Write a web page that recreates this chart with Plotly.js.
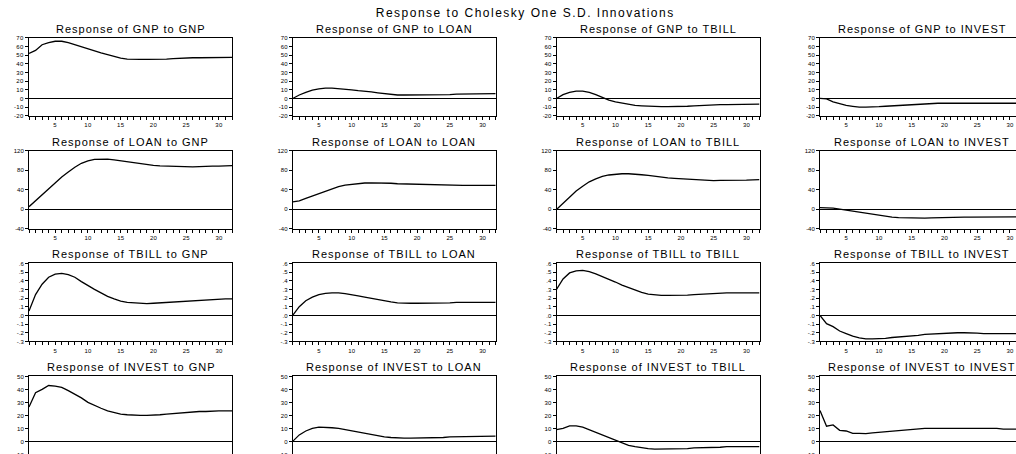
<!DOCTYPE html>
<html>
<head>
<meta charset="utf-8">
<script src="https://cdn.plot.ly/plotly-3.0.1.min.js"></script>
<style>
html, body { margin:0; padding:0; overflow:hidden; background:#fff; }
#chart { width:1030px; height:470px; }
.annotation-text { letter-spacing: 1px; }
.ytick text, .xtick text { letter-spacing: 0.4px; }
</style>
</head>
<body>
<div id="chart"></div>
<script>
// Periods (horizon)
const periods = [1,2,3,4,5,6,7,8,9,10,11,12,13,14,15,16,17,18,19,20,21,22,23,24,25,26,27,28,29,30,31,32];
const variables = ['GNP','LOAN','TBILL','INVEST'];
const mainTitle = 'Response to Cholesky One S.D. Innovations';

// Response of GNP
const gnpToGnp    = [52,55.5,62,64.5,66,66,64.5,62,59.5,57,54.5,52.5,50.5,48.5,46.5,45.5,45,45,45,45,45,45.5,46,46.5,46.5,47,47,47,47.5,47.5,47.5,47.5];
const gnpToLoan   = [0,4,7,9.5,11,12,12,11.5,11,10,9,8.5,7.5,6.5,5.5,4.5,4,4,4,4,4,4,4,4,4.5,5,5,5,5.5,5.5,5.5,5.5];
const gnpToTbill  = [0,4.5,7,8.5,8.5,7,4.5,1,-2,-4,-5.5,-7,-8,-8.5,-9,-9.5,-9.5,-9.5,-9.5,-9,-9,-8.5,-8,-7.5,-7.5,-7,-7,-7,-6.5,-6.5,-6.5,-6.5];
const gnpToInvest = [0,-0.5,-4,-6,-8,-9,-10,-10,-10,-9.5,-9,-8.5,-8,-7.5,-7,-6.5,-6,-5.5,-5.5,-5.5,-5.5,-5.5,-5.5,-5.5,-5.5,-5.5,-5.5,-5.5,-5.5,-5.5,-5.5,-5.5];

// Response of LOAN
const loanToGnp    = [5,17,30,43,55,66,76,86,94,99,102,103,102.5,101,99,97,95,93,91,89.5,88.5,88,87,86.5,86.5,86.5,87,88,88,88,88,89];
const loanToLoan   = [15,17,22,27,32,37,42,46,49,51,52.5,53.5,54,54,53.5,53,52,51.5,51,50.5,50,49.5,49,49,48.5,48.5,48.5,48.5,48.5,48.5,48.5,48.5];
const loanToTbill  = [-1,12,25,37,47,56,62,67,70,72,72.5,72.5,72,70.5,69,67,65,64,63,62,61,60,59,58.5,58.5,59,59.5,59.5,59.5,59.5,60,60.5];
const loanToInvest = [3,3,2,0,-2,-4,-6.5,-9,-11,-13,-15,-16.5,-17.5,-18,-18.5,-18.5,-18.5,-18,-17.5,-17,-16.5,-16.5,-16.5,-16.5,-16.5,-16,-16,-16,-16,-16,-16,-16];

// Response of TBILL
const tbillToGnp    = [0.05,0.24,0.36,0.44,0.475,0.485,0.47,0.44,0.39,0.34,0.30,0.26,0.22,0.19,0.165,0.15,0.145,0.14,0.135,0.14,0.145,0.15,0.155,0.16,0.165,0.17,0.175,0.18,0.18,0.185,0.19,0.19];
const tbillToLoan   = [0.0,0.1,0.17,0.21,0.24,0.255,0.26,0.26,0.25,0.24,0.225,0.21,0.195,0.18,0.165,0.155,0.145,0.14,0.14,0.14,0.14,0.14,0.145,0.145,0.145,0.15,0.15,0.15,0.15,0.15,0.15,0.15];
const tbillToTbill  = [0.3,0.42,0.49,0.515,0.52,0.505,0.48,0.45,0.42,0.385,0.35,0.32,0.29,0.265,0.245,0.235,0.23,0.23,0.23,0.235,0.235,0.24,0.245,0.25,0.25,0.255,0.26,0.26,0.26,0.26,0.26,0.26];
const tbillToInvest = [0.0,-0.095,-0.13,-0.18,-0.21,-0.24,-0.26,-0.27,-0.27,-0.27,-0.265,-0.255,-0.25,-0.24,-0.235,-0.23,-0.22,-0.215,-0.21,-0.205,-0.2,-0.2,-0.2,-0.2,-0.205,-0.21,-0.21,-0.21,-0.21,-0.21,-0.21,-0.21];

// Response of INVEST
const investToGnp    = [26.5,37.5,40,43,42.5,41.5,39,36.5,33.5,30,27.5,25.5,23.5,22,21,20.5,20,20,20,20,20.5,21,21.5,22,22.5,22.5,23,23,23.5,23.5,23.5,23.5];
const investToLoan   = [0,5,8,10,11,11,10.5,10,9,8,7,6,5,4,3.5,3,2.5,2.5,2.5,2.5,2.5,3,3,3,3.5,3.5,3.5,3.5,3.5,3.5,3.5,4];
const investToTbill  = [9,10,12,12,11,9,7,4.5,2.5,0.5,-1.5,-3,-4,-5,-5.5,-6,-6,-6,-6,-5.5,-5.5,-5,-5,-4.5,-4.5,-4.5,-4,-4,-4,-4,-4,-4];
const investToInvest = [23.8,11.7,12.7,8.5,8,6.2,6.2,6,6.5,7,7.5,8,8.5,9,9.5,9.5,10,10,10,10,10.5,10,10,10,10,10,10,10,9.5,9.5,9.5,9.5];

// Y tick labels per response row
const row1TickVals = [-20,-10,0,10,20,30,40,50,60,70];
const row1TickText = ['-20','-10','0','10','20','30','40','50','60','70'];
const row2TickVals = [-40,0,40,80,120];
const row2TickText = ['-40','0','40','80','120'];
const row3TickVals = [-0.3,-0.2,-0.1,0,0.1,0.2,0.3,0.4,0.5,0.6];
const row3TickText = ['-.3','-.2','-.1','.0','.1','.2','.3','.4','.5','.6'];
const row4TickVals = [-10,0,10,20,30,40,50];
const row4TickText = ['-10','0','10','20','30','40','50'];
const xTickVals = [5,10,15,20,25,30];
const xTickText = ['5','10','15','20','25','30'];

const series = [
  [gnpToGnp, gnpToLoan, gnpToTbill, gnpToInvest],
  [loanToGnp, loanToLoan, loanToTbill, loanToInvest],
  [tbillToGnp, tbillToLoan, tbillToTbill, tbillToInvest],
  [investToGnp, investToLoan, investToTbill, investToInvest]
];
const rowRanges = [[-20,70],[-40,120],[-0.3,0.6],[-10,50]];
const rowTicks = [[row1TickVals,row1TickText],[row2TickVals,row2TickText],[row3TickVals,row3TickText],[row4TickVals,row4TickText]];

const W = 1030, H = 470;
const colLeft = [29, 292.7, 556.5, 820];
const plotW = 203;
const rowTop = [37.8, 150.6, 263.4, 376.4];
const plotH = 78;
const FONT = '"Liberation Sans", Arial, sans-serif';

const data = [];
const layout = {
  width: W, height: H,
  margin: {l:0, r:0, t:0, b:0},
  paper_bgcolor: '#fff', plot_bgcolor: '#fff',
  showlegend: false,
  font: {family: FONT, color: '#000'},
  annotations: []
};

for (let r = 0; r < 4; r++) {
  for (let c = 0; c < 4; c++) {
    const k = r*4 + c + 1;
    const xa = 'x' + (k === 1 ? '' : k);
    const ya = 'y' + (k === 1 ? '' : k);
    data.push({
      x: periods, y: series[r][c], type: 'scatter', mode: 'lines',
      xaxis: xa, yaxis: ya,
      line: {color: '#000', width: 1.3}, hoverinfo: 'skip'
    });
    const xd = [colLeft[c]/W, (colLeft[c]+plotW)/W];
    const yd = [(H - rowTop[r] - plotH)/H, (H - rowTop[r])/H];
    layout['xaxis' + (k === 1 ? '' : k)] = {
      domain: xd, anchor: ya, range: [1, 32],
      showgrid: false, zeroline: false,
      showline: true, mirror: true, linecolor: '#000', linewidth: 1,
      ticks: 'outside', ticklen: 3, tickwidth: 1, tickcolor: '#000',
      tickvals: xTickVals, ticktext: xTickText,
      minor: {tickvals: periods, ticks: 'outside', ticklen: 3, tickwidth: 1, tickcolor: '#000', showgrid: false},
      tickfont: {size: 6, family: FONT, color: '#000'},
      fixedrange: true
    };
    layout['yaxis' + (k === 1 ? '' : k)] = {
      domain: yd, anchor: xa, range: rowRanges[r],
      showgrid: false, zeroline: true, zerolinecolor: '#000', zerolinewidth: 1,
      showline: true, mirror: true, linecolor: '#000', linewidth: 1,
      ticks: 'outside', ticklen: 3, tickwidth: 1, tickcolor: '#000',
      tickvals: rowTicks[r][0], ticktext: rowTicks[r][1],
      tickfont: {size: 6, family: FONT, color: '#000'},
      fixedrange: true
    };
    layout.annotations.push({
      xref: 'paper', yref: 'paper',
      x: (colLeft[c] + plotW/2)/W, y: (H - (rowTop[r] - 9))/H,
      xanchor: 'center', yanchor: 'middle', showarrow: false,
      text: 'Response of ' + variables[r] + ' to ' + variables[c],
      font: {size: 11, family: FONT, color: '#000'}
    });
  }
}
layout.annotations.push({
  xref: 'paper', yref: 'paper', x: 525/W, y: (H - 13)/H,
  xanchor: 'center', yanchor: 'middle', showarrow: false,
  text: mainTitle, font: {size: 12, family: FONT, color: '#000'}
});

Plotly.newPlot('chart', data, layout, {staticPlot: true, displayModeBar: false}).then(function () {
  document.querySelectorAll('.annotation-text').forEach(function (el) {
    if (el.textContent === mainTitle) el.style.letterSpacing = '1.5px';
  });
});
</script>
</body>
</html>
